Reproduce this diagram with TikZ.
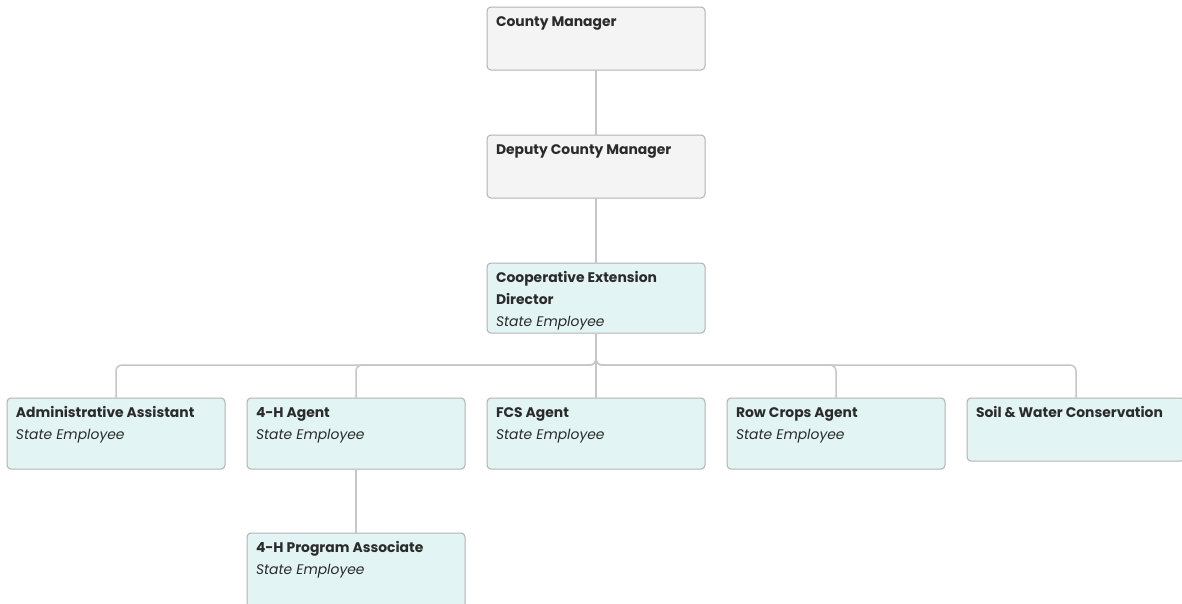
\documentclass[tikz,border=0pt]{standalone}
\usepackage{fontspec}
\setmainfont{Poppins}
\usetikzlibrary{positioning}

\definecolor{linegray}{HTML}{C6C6C6}
\definecolor{bordergray}{HTML}{B2B2B2}
\definecolor{boxgray}{HTML}{F4F4F4}
\definecolor{boxteal}{HTML}{E2F4F4}
\definecolor{textdark}{HTML}{2B2B2B}

% title in bold, optional second line in italics, text kept at the top of the box
\newcommand{\cardtext}[3][63]{%
  \parbox[c][#1pt][t]{200pt}{\fontsize{13.9pt}{22pt}\selectfont
    \rule{0pt}{19pt}\textbf{#2}\par{\itshape #3}}}

\begin{document}
\begin{tikzpicture}[x=1pt, y=1pt,
    card/.style={draw=bordergray, line width=1pt, rounded corners=4pt,
                 inner xsep=9pt, inner ysep=0pt, outer sep=0pt, text=textdark},
    link/.style={draw=linegray, line width=1.5pt, rounded corners=6pt},
    node distance=65pt and 22pt]
  \clip (0,0) rectangle (1182,-603);
  \fill[white] (0,0) rectangle (1182,-603);

  % management column
  \node[card, fill=boxgray, anchor=north] (cm) at (596,-7) {\cardtext{County Manager}{}};
  \node[card, fill=boxgray, below=of cm] (dcm) {\cardtext{Deputy County Manager}{}};
  \node[card, fill=boxteal, below=of dcm] (ced)
    {\cardtext[70]{Cooperative Extension\\Director}{State Employee}};

  % extension staff
  \node[card, fill=boxteal, below=of ced] (fcs) {\cardtext[71]{FCS Agent}{State Employee}};
  \node[card, fill=boxteal, left=of fcs] (agent4h) {\cardtext[71]{4-H Agent}{State Employee}};
  \node[card, fill=boxteal, left=of agent4h] (admin)
    {\cardtext[71]{Administrative Assistant}{State Employee}};
  \node[card, fill=boxteal, right=of fcs] (rca) {\cardtext[71]{Row Crops Agent}{State Employee}};
  \node[card, fill=boxteal, right=22pt of rca.north east, anchor=north west] (swc)
    {\cardtext{Soil \& Water Conservation}{}};
  \node[card, fill=boxteal, below=64pt of agent4h.south, anchor=north] (pa4h)
    {\cardtext[75]{4-H Program Associate}{State Employee}};

  \draw[link] (cm) -- (dcm);
  \draw[link] (dcm) -- (ced);
  \foreach \child in {admin, agent4h, fcs, rca}
    \draw[link] (ced.south) -- ++(0,-32) -| (\child.north);
  \draw[link] (ced.south) -- ++(0,-32) -| (swc.north);
  \draw[link] (agent4h) -- (pa4h);
\end{tikzpicture}
\end{document}
